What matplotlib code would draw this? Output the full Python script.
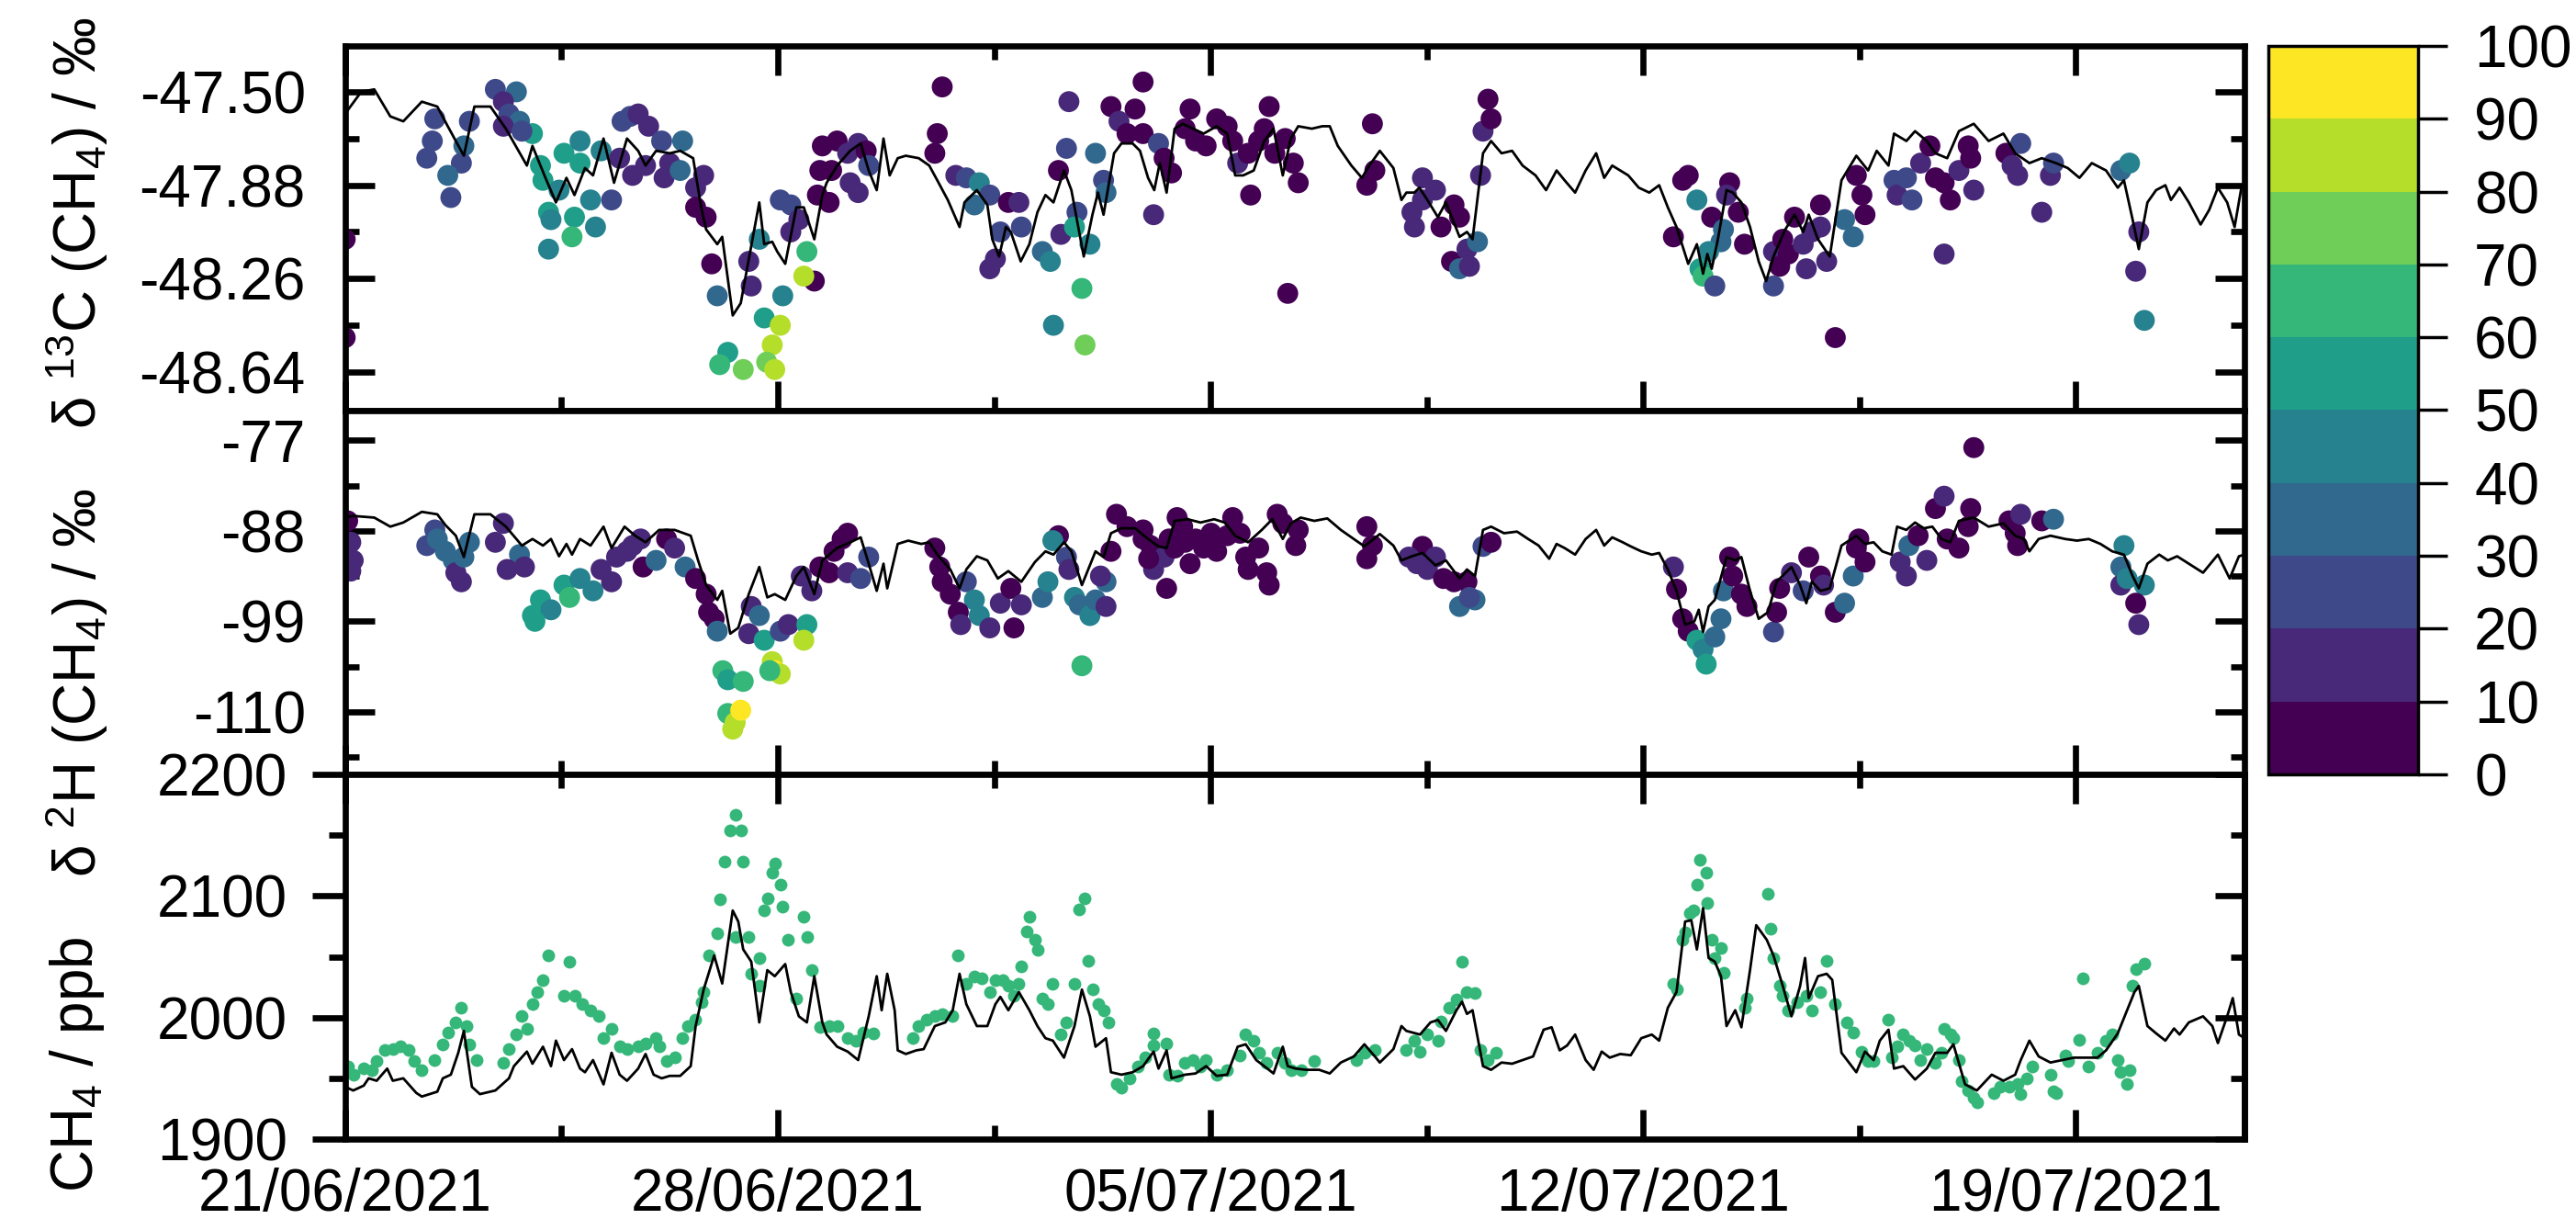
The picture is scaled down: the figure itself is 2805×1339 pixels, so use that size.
import numpy as np
import matplotlib
matplotlib.use("Agg")
import matplotlib.pyplot as plt
import matplotlib.dates as mdates
from matplotlib.colors import BoundaryNorm
from matplotlib.cm import ScalarMappable
from matplotlib.ticker import FixedLocator, FormatStrFormatter

plt.rcParams['font.family'] = 'Liberation Sans'
plt.rcParams['mathtext.fontset'] = 'custom'
plt.rcParams['mathtext.rm'] = 'Liberation Sans'
plt.rcParams['mathtext.it'] = 'Liberation Sans:italic'
plt.rcParams['axes.unicode_minus'] = False

# time is given as days since 21/06/2021 00:00
START = np.datetime64('2021-06-21T00:00')
X_END_DAYS = 30.73

# ---- delta 13C : background line ----
c13_line_day = [
    0.00, 0.04, 0.26, 0.47, 0.73, 0.94, 1.24, 1.49, 1.66, 1.92,
    2.09, 2.35, 2.60, 2.94, 3.03, 3.24, 3.41, 3.58, 3.71, 3.88,
    4.01, 4.18, 4.35, 4.56, 4.74, 4.86, 5.03, 5.25, 5.42, 5.63,
    5.76, 5.84, 6.02, 6.10, 6.27, 6.40, 6.48, 6.70, 6.78, 6.91,
    6.99, 7.12, 7.30, 7.42, 7.59, 7.72, 7.79, 7.96, 8.17, 8.34,
    8.47, 8.60, 8.71, 8.81, 8.94, 9.07, 9.28, 9.45, 9.58, 9.75,
    9.94, 10.02, 10.22, 10.39, 10.47, 10.58, 10.69, 10.77, 10.93, 11.07,
    11.20, 11.33, 11.46, 11.63, 11.75, 11.95, 12.09, 12.18, 12.27, 12.44,
    12.56, 12.74, 12.86, 12.99, 13.09, 13.18, 13.29, 13.42, 13.55, 13.72,
    13.89, 14.10, 14.27, 14.40, 14.53, 14.70, 14.87, 15.02, 15.17, 15.30,
    15.42, 15.64, 15.81, 15.93, 16.06, 16.28, 16.45, 16.57, 16.74, 16.96,
    17.09, 17.17, 17.30, 17.38, 17.51, 17.68, 17.81, 18.03, 18.15, 18.24,
    18.41, 18.54, 18.71, 18.88, 19.05, 19.26, 19.43, 19.60, 19.73, 19.90,
    20.07, 20.24, 20.37, 20.50, 20.63, 20.76, 20.93, 21.10, 21.26, 21.40,
    21.54, 21.73, 21.87, 21.97, 22.04, 22.11, 22.21, 22.35, 22.45, 22.59,
    22.73, 22.87, 22.99, 23.11, 23.30, 23.45, 23.59, 23.68, 23.83, 24.02,
    24.21, 24.45, 24.64, 24.78, 24.97, 25.06, 25.26, 25.40, 25.59, 25.73,
    25.92, 26.11, 26.35, 26.59, 26.83, 27.02, 27.25, 27.45, 27.68, 27.87,
    28.06, 28.26, 28.49, 28.68, 28.78, 28.92, 29.02, 29.16, 29.30, 29.45,
    29.54, 29.68, 29.83, 30.02, 30.16, 30.30, 30.45, 30.57, 30.68, 30.73]
c13_line_val = [
    -47.60, -47.575, -47.50, -47.49, -47.60, -47.62, -47.54, -47.56, -47.64, -47.76,
    -47.56, -47.56, -47.65, -47.80, -47.72, -47.85, -47.95, -47.85, -47.92, -47.81,
    -47.84, -47.69, -47.87, -47.69, -47.74, -47.80, -47.74, -47.75, -47.74, -47.77,
    -47.97, -48.06, -48.12, -48.09, -48.41, -48.36, -48.25, -47.95, -48.12, -48.11,
    -48.15, -48.20, -47.97, -47.97, -48.10, -47.92, -47.87, -47.80, -47.74, -47.71,
    -47.82, -47.90, -47.69, -47.84, -47.77, -47.76, -47.77, -47.80, -47.86, -47.94,
    -48.05, -47.95, -47.90, -47.96, -48.10, -48.17, -48.05, -48.07, -48.19, -48.12,
    -47.99, -47.92, -47.95, -47.82, -47.90, -48.17, -48.00, -47.91, -48.00, -47.75,
    -47.71, -47.71, -47.74, -47.85, -47.90, -47.79, -47.91, -47.65, -47.63, -47.65,
    -47.67, -47.64, -47.67, -47.84, -47.84, -47.82, -47.70, -47.65, -47.84, -47.69,
    -47.64, -47.65, -47.64, -47.64, -47.72, -47.80, -47.85, -47.80, -47.74, -47.81,
    -47.94, -47.91, -47.91, -47.89, -47.94, -48.01, -47.95, -48.09, -48.07, -48.10,
    -47.75, -47.70, -47.75, -47.74, -47.80, -47.84, -47.90, -47.82, -47.86, -47.91,
    -47.82, -47.75, -47.85, -47.80, -47.82, -47.84, -47.89, -47.91, -47.88, -47.97,
    -48.05, -48.20, -48.12, -48.24, -48.16, -48.22, -48.10, -47.90, -47.91, -47.95,
    -48.05, -48.19, -48.27, -48.17, -48.06, -48.00, -48.07, -48.00, -48.10, -48.17,
    -47.86, -47.76, -47.82, -47.74, -47.80, -47.67, -47.70, -47.66, -47.70, -47.75,
    -47.77, -47.66, -47.63, -47.70, -47.67, -47.75, -47.79, -47.77, -47.79, -47.81,
    -47.85, -47.79, -47.82, -47.89, -47.86, -48.02, -48.14, -47.95, -47.90, -47.88,
    -47.94, -47.89, -47.95, -48.04, -47.98, -47.89, -47.95, -48.05, -47.89, -47.89]

# ---- delta 13C : samples, colour = percentage ----
c13_day = [
    0.00, 0.00, 2.43, 2.77, 2.56, 2.65, 2.82, 2.56, 3.03, 2.86,
    1.45, 2.01, 1.41, 1.92, 1.32, 1.88, 1.66, 1.71, 3.54, 3.80,
    3.16, 3.20, 3.46, 3.80, 3.29, 3.33, 3.71, 3.67, 3.29, 3.97,
    4.05, 4.31, 4.14, 4.48, 4.61, 4.74, 4.91, 4.44, 4.65, 4.86,
    5.12, 5.25, 5.16, 5.46, 5.42, 5.67, 5.80, 5.67, 5.84, 5.93,
    6.02, 6.53, 6.57, 6.70, 6.78, 7.04, 7.21, 7.34, 7.47, 7.59,
    7.42, 7.08, 6.19, 6.06, 6.44, 7.04, 6.91, 6.82, 6.95, 6.36,
    7.68, 7.72, 7.64, 7.21, 7.96, 7.87, 7.83, 8.13, 8.30, 8.43,
    8.17, 8.30, 8.47, 9.66, 9.58, 9.54, 9.88, 10.05, 10.26, 10.43,
    10.18, 10.73, 10.90, 10.60, 10.94, 10.52, 10.43, 11.28, 11.41, 11.54,
    11.58, 11.71, 11.67, 12.14, 11.84, 11.80, 12.05, 11.92, 11.46, 11.97,
    12.27, 12.31, 12.39, 12.78, 12.91, 12.52, 12.65, 12.91, 13.16, 13.25,
    13.37, 13.08, 13.67, 13.59, 13.76, 13.93, 14.10, 14.27, 14.36, 14.44,
    14.61, 14.95, 14.87, 14.78, 15.04, 15.21, 15.34, 15.42, 14.65, 15.25,
    16.62, 16.66, 16.53, 17.43, 17.64, 17.26, 17.30, 17.43, 17.73, 17.94,
    18.03, 17.90, 18.03, 18.19, 18.15, 18.32, 18.37, 18.41, 18.49, 18.54,
    21.73, 21.64, 21.87, 21.49, 22.11, 22.40, 22.35, 22.54, 22.30, 22.26,
    22.06, 21.92, 21.97, 22.16, 22.64, 23.11, 23.45, 23.26, 23.35, 23.21,
    23.59, 23.64, 23.73, 23.87, 23.87, 23.97, 23.11, 24.11, 24.26, 24.40,
    24.45, 24.54, 24.59, 25.06, 25.11, 25.26, 25.35, 25.49, 25.64, 25.73,
    25.87, 25.97, 26.11, 26.26, 26.30, 26.35, 25.87, 26.87, 26.97, 27.11,
    27.06, 27.59, 27.64, 27.45, 28.73, 28.87, 29.02, 28.97, 29.11]
c13_val = [
    -48.10, -48.50, -47.49, -47.50, -47.54, -47.59, -47.62, -47.64, -47.67, -47.66,
    -47.61, -47.62, -47.70, -47.72, -47.77, -47.79, -47.84, -47.93, -47.75, -47.70,
    -47.80, -47.86, -47.90, -47.79, -47.99, -48.02, -48.01, -48.09, -48.14, -47.94,
    -48.05, -47.94, -47.74, -47.62, -47.60, -47.59, -47.64, -47.77, -47.84, -47.80,
    -47.70, -47.79, -47.85, -47.70, -47.82, -47.89, -47.84, -47.97, -48.01, -48.20,
    -48.33, -48.19, -48.29, -48.10, -48.42, -47.94, -47.96, -48.02, -48.15, -48.27,
    -48.25, -48.33, -48.56, -48.61, -48.63, -48.45, -48.53, -48.60, -48.63, -48.84,
    -47.82, -47.72, -47.92, -48.07, -47.70, -47.82, -47.95, -47.75, -47.71, -47.74,
    -47.87, -47.91, -47.80, -47.48, -47.67, -47.75, -47.84, -47.85, -47.87, -47.92,
    -47.96, -47.95, -47.95, -48.07, -48.05, -48.18, -48.22, -48.15, -48.19, -47.82,
    -48.08, -47.54, -47.73, -47.75, -47.99, -48.05, -48.12, -48.30, -48.45, -48.53,
    -47.86, -47.91, -47.56, -47.57, -47.46, -47.62, -47.67, -47.67, -47.71, -47.77,
    -47.83, -48.00, -47.57, -47.65, -47.70, -47.72, -47.61, -47.64, -47.70, -47.79,
    -47.75, -47.56, -47.65, -47.70, -47.75, -47.69, -47.79, -47.87, -47.92, -48.32,
    -47.63, -47.82, -47.88, -47.85, -47.90, -47.99, -48.05, -47.94, -48.05, -47.96,
    -48.01, -48.19, -48.22, -48.21, -48.14, -48.11, -47.84, -47.66, -47.53, -47.61,
    -47.84, -47.86, -47.94, -48.09, -48.01, -47.87, -47.92, -47.99, -48.06, -48.11,
    -48.15, -48.22, -48.25, -48.29, -48.12, -48.15, -48.01, -48.10, -48.16, -48.21,
    -48.12, -48.22, -48.07, -47.96, -48.05, -48.19, -48.29, -48.50, -48.02, -48.09,
    -47.84, -47.92, -48.00, -47.86, -47.92, -47.85, -47.94, -47.79, -47.72, -47.85,
    -47.87, -47.94, -47.82, -47.72, -47.77, -47.90, -48.16, -47.75, -47.80, -47.71,
    -47.84, -47.84, -47.79, -47.99, -47.82, -47.79, -48.07, -48.23, -48.43]
c13_pct = [
    5, 5, 25, 35, 15, 25, 35, 15, 55, 25,
    25, 25, 25, 35, 25, 25, 35, 25, 55, 45,
    55, 55, 45, 55, 55, 45, 55, 65, 45, 45,
    45, 25, 45, 25, 25, 15, 15, 15, 15, 15,
    25, 15, 15, 35, 35, 15, 15, 5, 5, 5,
    35, 15, 15, 45, 55, 25, 25, 15, 65, 5,
    85, 45, 55, 65, 75, 85, 85, 75, 85, 85,
    5, 5, 5, 15, 5, 5, 5, 15, 15, 5,
    15, 15, 25, 5, 5, 5, 15, 25, 45, 25,
    35, 5, 15, 25, 25, 15, 15, 35, 45, 5,
    15, 15, 25, 35, 25, 55, 45, 65, 45, 75,
    25, 35, 5, 5, 5, 15, 5, 5, 25, 5,
    5, 15, 5, 5, 5, 5, 5, 5, 5, 15,
    5, 5, 5, 5, 5, 5, 5, 5, 5, 5,
    5, 5, 5, 15, 15, 15, 15, 15, 5, 5,
    5, 5, 35, 15, 15, 35, 15, 15, 5, 5,
    5, 5, 45, 5, 5, 5, 15, 5, 35, 35,
    45, 55, 65, 25, 5, 15, 5, 5, 5, 5,
    15, 15, 15, 5, 15, 15, 25, 5, 35, 35,
    5, 5, 5, 25, 15, 25, 25, 15, 5, 5,
    5, 5, 15, 5, 5, 15, 15, 5, 15, 25,
    15, 15, 25, 15, 35, 45, 15, 15, 45]

# ---- delta 2H : background line ----
d2h_line_day = [
    0.00, 0.13, 0.47, 0.73, 0.94, 1.24, 1.49, 1.62, 1.79, 1.92,
    2.09, 2.35, 2.60, 2.86, 3.03, 3.20, 3.33, 3.46, 3.58, 3.67,
    3.80, 3.97, 4.18, 4.31, 4.52, 4.69, 4.86, 5.08, 5.33, 5.59,
    5.71, 5.84, 6.02, 6.10, 6.23, 6.36, 6.53, 6.70, 6.83, 6.95,
    7.12, 7.30, 7.42, 7.59, 7.72, 7.96, 8.17, 8.34, 8.47, 8.60,
    8.71, 8.77, 8.94, 9.11, 9.32, 9.45, 9.58, 9.79, 9.94, 10.05,
    10.22, 10.39, 10.56, 10.73, 10.94, 11.16, 11.33, 11.46, 11.63, 11.75,
    11.92, 12.14, 12.27, 12.39, 12.56, 12.78, 12.99, 13.16, 13.29, 13.42,
    13.63, 13.84, 14.06, 14.23, 14.40, 14.61, 14.83, 15.00, 15.17, 15.30,
    15.46, 15.68, 15.89, 16.11, 16.28, 16.49, 16.74, 16.96, 17.09, 17.26,
    17.43, 17.64, 17.81, 18.03, 18.15, 18.28, 18.41, 18.54, 18.75, 18.96,
    19.14, 19.31, 19.48, 19.60, 19.73, 19.90, 20.07, 20.24, 20.37, 20.50,
    20.67, 20.80, 20.97, 21.14, 21.26, 21.40, 21.54, 21.68, 21.83, 21.90,
    21.97, 22.06, 22.16, 22.35, 22.49, 22.59, 22.73, 22.87, 23.02, 23.16,
    23.40, 23.54, 23.64, 23.73, 23.87, 24.02, 24.21, 24.45, 24.59, 24.73,
    24.87, 25.02, 25.11, 25.26, 25.40, 25.54, 25.68, 25.83, 25.97, 26.11,
    26.35, 26.59, 26.83, 27.02, 27.16, 27.25, 27.40, 27.59, 27.83, 28.02,
    28.21, 28.40, 28.59, 28.78, 28.92, 29.02, 29.16, 29.35, 29.49, 29.64,
    29.83, 30.06, 30.30, 30.49, 30.64, 30.73]
d2h_line_val = [
    -86.4, -86.2, -86.4, -87.5, -87.0, -85.7, -86.0, -87.3, -88.6, -91.2,
    -86.0, -86.0, -87.5, -89.8, -89.0, -89.8, -89.0, -91.1, -89.6, -90.9,
    -89.0, -89.8, -87.5, -90.1, -87.5, -88.6, -89.4, -87.9, -87.9, -88.6,
    -91.6, -94.6, -96.4, -95.3, -100.5, -99.8, -95.7, -92.4, -96.1, -95.7,
    -96.4, -93.5, -92.4, -95.7, -91.6, -90.1, -89.4, -88.8, -92.0, -95.3,
    -92.0, -95.0, -89.6, -89.2, -89.6, -89.4, -90.9, -92.7, -95.0, -92.7,
    -91.1, -91.6, -93.8, -92.9, -94.2, -91.8, -90.5, -90.9, -89.4, -90.5,
    -94.6, -90.5, -91.2, -88.3, -87.7, -87.7, -89.0, -89.9, -90.1, -86.8,
    -86.6, -87.0, -86.6, -87.0, -88.6, -89.4, -87.9, -86.6, -89.0, -87.1,
    -86.4, -86.8, -86.5, -87.9, -88.8, -89.9, -88.4, -89.8, -91.6, -91.1,
    -90.7, -92.2, -91.6, -93.8, -92.7, -93.5, -87.9, -87.5, -88.3, -88.1,
    -89.0, -89.8, -91.4, -89.6, -90.1, -90.9, -89.0, -87.9, -89.8, -88.8,
    -89.4, -89.9, -90.5, -90.9, -90.7, -92.7, -95.3, -99.4, -99.0, -97.6,
    -100.3, -97.2, -96.4, -91.2, -91.6, -91.2, -95.3, -98.7, -97.9, -94.2,
    -92.4, -94.6, -96.8, -94.2, -95.3, -95.0, -89.8, -88.6, -89.6, -89.4,
    -90.5, -90.9, -87.5, -87.9, -87.0, -87.7, -87.5, -89.0, -89.4, -86.8,
    -86.4, -87.5, -87.1, -88.6, -89.0, -90.5, -89.0, -88.6, -89.0, -89.2,
    -89.0, -89.6, -90.5, -90.9, -93.5, -95.0, -92.0, -90.9, -91.6, -91.1,
    -92.0, -93.1, -90.9, -93.8, -91.1, -90.9]

# ---- delta 2H : samples, colour = percentage ----
d2h_day = [
    0.04, 0.09, 0.13, 0.09, 1.45, 1.32, 1.49, 1.62, 1.75, 1.79,
    1.88, 2.01, 1.92, 2.43, 2.56, 2.82, 2.62, 2.90, 3.54, 3.16,
    3.03, 3.33, 3.07, 3.63, 3.80, 4.01, 4.14, 4.31, 4.39, 4.56,
    4.78, 4.65, 4.82, 5.03, 5.20, 5.33, 5.50, 5.67, 5.84, 5.88,
    5.97, 6.02, 6.53, 6.57, 6.70, 6.78, 7.04, 7.17, 7.47, 7.42,
    6.11, 6.19, 6.44, 6.91, 6.95, 7.04, 6.87, 6.19, 6.31, 6.27,
    7.38, 7.55, 7.68, 6.40,
    8.13, 8.04, 7.91, 7.83, 8.13, 8.34, 8.47, 9.54, 9.62, 9.66,
    9.79, 10.05, 10.18, 10.26, 9.92, 9.96, 10.43, 10.60, 10.82, 10.77,
    10.94, 11.28, 11.37, 11.54, 11.45, 11.67, 11.71, 11.80, 11.88, 12.05,
    12.14, 12.31, 12.31, 12.22, 12.39, 11.92, 12.48, 12.65, 12.91, 12.91,
    13.03, 13.08, 13.25, 13.00, 13.29, 13.46, 13.55, 13.33, 13.42, 13.59,
    13.67, 13.76, 13.89, 14.01, 14.10, 14.36, 14.27, 14.48, 14.57, 14.61,
    14.78, 14.91, 14.95, 15.08, 15.17, 15.42, 15.38, 16.53, 16.62, 16.53,
    17.43, 17.21, 17.34, 17.64, 17.51, 17.77, 17.94, 18.15, 18.03, 18.28,
    18.19, 18.41, 18.54,
    21.49, 21.54, 21.64, 21.73, 21.87, 21.97, 22.02, 22.16, 22.26, 22.30,
    22.40, 22.45, 22.59, 22.68, 23.11, 23.16, 23.21, 23.40, 23.59, 23.68,
    23.87, 23.92, 24.11, 24.26, 24.40, 24.45, 24.59, 24.49, 25.16, 25.26,
    25.30, 25.45, 25.59, 25.73, 25.87, 25.92, 26.11, 26.26, 26.30, 26.35,
    26.92, 27.02, 27.06, 27.11, 27.45, 27.64, 28.78, 28.73, 28.73, 28.83,
    29.11, 28.97, 29.02]
d2h_val = [
    -86.8, -89.4, -91.6, -92.9, -87.9, -89.8, -89.0, -90.5, -91.6, -93.1,
    -94.2, -89.4, -91.2, -89.4, -87.1, -90.9, -92.7, -92.4, -94.6, -96.4,
    -98.3, -97.6, -99.0, -96.1, -93.8, -95.3, -92.7, -94.2, -91.2, -90.5,
    -89.0, -89.8, -92.4, -91.6, -89.0, -90.1, -92.4, -93.8, -95.7, -97.9,
    -98.7, -100.2, -100.5, -97.2, -98.3, -101.3, -100.2, -99.4, -99.4, -101.3,
    -105.0, -106.1, -106.3, -103.9, -105.0, -105.4, -105.0, -110.2, -111.3, -112.1,
    -93.5, -95.3, -92.4, -109.8,
    -88.3, -89.0, -90.5, -93.1, -93.1, -93.8, -91.2, -90.1, -92.4, -94.2,
    -95.7, -94.2, -96.4, -98.3, -97.9, -99.4, -99.8, -96.8, -99.8, -95.0,
    -97.0, -96.1, -94.2, -88.6, -89.2, -91.2, -92.7, -96.1, -97.0, -98.3,
    -96.4, -94.2, -97.2, -93.5, -90.5, -104.4, -86.0, -87.5, -87.9, -89.0,
    -89.8, -92.7, -91.2, -91.4, -95.0, -86.4, -87.5, -89.0, -90.1, -89.4,
    -92.0, -89.0, -90.1, -88.3, -90.5, -86.4, -88.6, -88.3, -91.2, -92.7,
    -90.1, -93.1, -94.6, -86.0, -87.1, -87.9, -89.8, -87.5, -89.8, -91.4,
    -89.9, -91.2, -92.0, -91.2, -92.7, -93.8, -94.2, -94.2, -97.2, -96.4,
    -96.1, -89.9, -89.4,
    -92.4, -95.1, -98.7, -100.2, -101.3, -102.4, -104.2, -100.9, -98.7, -95.3,
    -91.2, -93.5, -95.7, -97.2, -100.3, -97.9, -95.0, -93.1, -95.3, -91.2,
    -93.5, -94.6, -97.9, -96.8, -93.5, -90.1, -91.8, -89.0, -91.8, -93.5,
    -89.8, -88.6, -91.6, -85.3, -83.8, -89.0, -90.1, -87.5, -85.3, -77.9,
    -86.8, -88.3, -89.8, -86.0, -86.8, -86.6, -89.8, -92.4, -94.6, -93.8,
    -94.6, -96.8, -99.4]
d2h_pct = [
    5, 15, 15, 15, 25, 25, 35, 35, 35, 15,
    15, 35, 35, 15, 15, 35, 15, 15, 55, 55,
    55, 45, 55, 65, 45, 45, 15, 15, 15, 15,
    15, 15, 5, 35, 5, 15, 35, 5, 5, 5,
    5, 35, 15, 15, 35, 55, 25, 15, 55, 85,
    65, 55, 65, 85, 95, 85, 65, 65, 85, 85,
    15, 15, 5, 95,
    5, 5, 5, 5, 15, 25, 25, 5, 5, 5,
    5, 25, 45, 45, 5, 15, 15, 15, 5, 5,
    15, 35, 45, 5, 45, 25, 15, 45, 35, 45,
    35, 35, 15, 15, 5, 65, 5, 5, 5, 5,
    5, 15, 15, 5, 5, 5, 5, 5, 5, 5,
    5, 5, 5, 5, 5, 5, 5, 5, 5, 5,
    5, 5, 5, 5, 5, 5, 5, 5, 5, 5,
    5, 15, 15, 15, 15, 5, 5, 5, 35, 35,
    25, 25, 5,
    15, 5, 5, 5, 55, 45, 55, 35, 35, 35,
    5, 5, 5, 5, 25, 5, 5, 15, 25, 5,
    5, 15, 5, 35, 35, 5, 5, 5, 15, 15,
    35, 5, 15, 5, 15, 5, 5, 5, 5, 5,
    5, 5, 5, 15, 5, 35, 45, 35, 15, 45,
    45, 5, 15]

# ---- CH4 : background line ----
ch4_line_day = [
    0.00, 0.13, 0.30, 0.38, 0.51, 0.68, 0.77, 0.94, 1.15, 1.24,
    1.49, 1.58, 1.71, 1.83, 1.92, 2.05, 2.18, 2.43, 2.65, 2.73,
    2.94, 3.03, 3.20, 3.33, 3.41, 3.54, 3.67, 3.80, 3.88, 4.01,
    4.18, 4.31, 4.44, 4.56, 4.74, 4.86, 4.99, 5.12, 5.25, 5.42,
    5.59, 5.67, 5.80, 5.97, 6.10, 6.27, 6.36, 6.44, 6.57, 6.70,
    6.83, 6.95, 7.12, 7.21, 7.34, 7.47, 7.59, 7.72, 7.79, 7.96,
    8.13, 8.30, 8.47, 8.60, 8.68, 8.77, 8.89, 8.94, 9.07, 9.24,
    9.36, 9.54, 9.71, 9.83, 9.94, 10.05, 10.22, 10.39, 10.52, 10.60,
    10.73, 10.90, 11.07, 11.20, 11.33, 11.45, 11.63, 11.80, 11.92, 12.05,
    12.14, 12.31, 12.39, 12.56, 12.74, 12.91, 13.08, 13.16, 13.29, 13.37,
    13.59, 13.76, 13.93, 14.10, 14.27, 14.44, 14.57, 14.74, 14.87, 15.02,
    15.17, 15.25, 15.38, 15.55, 15.76, 15.93, 16.11, 16.32, 16.49, 16.66,
    16.74, 16.96, 17.09, 17.17, 17.39, 17.56, 17.68, 17.81, 17.98, 18.07,
    18.15, 18.24, 18.41, 18.54, 18.71, 18.88, 19.05, 19.22, 19.39, 19.52,
    19.65, 19.77, 19.90, 20.07, 20.20, 20.33, 20.46, 20.63, 20.80, 20.97,
    21.14, 21.26, 21.40, 21.54, 21.68, 21.78, 21.87, 21.97, 22.06, 22.16,
    22.26, 22.35, 22.49, 22.59, 22.73, 22.83, 23.00, 23.11, 23.26, 23.40,
    23.54, 23.62, 23.68, 23.83, 23.97, 24.06, 24.21, 24.45, 24.59, 24.73,
    24.83, 24.97, 25.06, 25.21, 25.40, 25.59, 25.73, 25.92, 26.02, 26.21,
    26.40, 26.64, 26.83, 27.02, 27.11, 27.25, 27.40, 27.59, 27.78, 27.97,
    28.16, 28.35, 28.49, 28.68, 28.83, 28.95, 29.02, 29.16, 29.30, 29.45,
    29.59, 29.68, 29.83, 30.06, 30.21, 30.30, 30.45, 30.54, 30.64, 30.73]
ch4_line_val = [
    1943, 1940, 1944, 1950, 1948, 1958, 1948, 1950, 1938, 1935,
    1939, 1950, 1953, 1971, 1989, 1943, 1937, 1940, 1950, 1960,
    1972, 1962, 1976, 1960, 1981, 1965, 1974, 1958, 1955, 1965,
    1945, 1971, 1953, 1948, 1958, 1970, 1953, 1950, 1952, 1952,
    1960, 1993, 2023, 2051, 2028, 2088, 2079, 2056, 2046, 1996,
    2039, 2034, 2044, 2021, 2001, 1996, 2034, 1996, 1986, 1976,
    1972, 1965, 2001, 2034, 2006, 2036, 2006, 1973, 1970, 1973,
    1974, 1993, 1996, 2006, 2036, 2011, 1993, 1993, 2011, 2017,
    2006, 2021, 2006, 1993, 1983, 1981, 1967, 1993, 2023, 2001,
    1976, 1983, 1955, 1953, 1955, 1960, 1972, 1958, 1973, 1950,
    1953, 1954, 1960, 1952, 1953, 1976, 1978, 1965, 1960, 1954,
    1976, 1960, 1958, 1957, 1957, 1954, 1963, 1968, 1978, 1968,
    1963, 1974, 1993, 1989, 1986, 1996, 1998, 1989, 2006, 2013,
    2003, 2006, 1960, 1957, 1963, 1962, 1965, 1968, 1990, 1992,
    1973, 1977, 1986, 1965, 1957, 1972, 1967, 1970, 1969, 1983,
    1986, 1981, 2008, 2021, 2079, 2080, 2056, 2090, 2049, 2046,
    2034, 1993, 2006, 1992, 2039, 2076, 2064, 2051, 2026, 2001,
    2026, 2049, 2016, 2034, 2036, 2031, 1971, 1955, 1972, 1965,
    1981, 1990, 1958, 1960, 1949, 1958, 1971, 1971, 1978, 1945,
    1940, 1953, 1948, 1953, 1965, 1981, 1968, 1963, 1965, 1967,
    1967, 1967, 1973, 1987, 2006, 2021, 2026, 1993, 1987, 1981,
    1991, 1986, 1996, 2001, 1993, 1979, 2001, 2016, 1986, 1983]

# ---- CH4 : samples ----
ch4_day = [
    0.04, 0.13, 0.30, 0.43, 0.51, 0.64, 0.77, 0.90, 1.02, 1.11,
    1.24, 1.45, 1.58, 1.66, 1.79, 1.88, 1.96, 2.01, 2.13, 2.56,
    2.65, 2.77, 2.86, 2.94, 3.03, 3.11, 3.20, 3.29, 3.54, 3.63,
    3.71, 3.84, 3.97, 4.10, 4.18, 4.31, 4.44, 4.56, 4.74, 4.86,
    5.03, 5.08, 5.20, 5.33, 5.46, 5.55, 5.67, 5.76, 5.80, 5.88,
    6.02, 6.06, 6.14, 6.23, 6.31, 6.40, 6.44, 6.31, 6.53, 6.57,
    6.70, 6.70, 6.78, 6.83, 6.91, 6.95, 7.04, 7.08, 7.17, 7.30,
    7.42, 7.47, 7.55, 7.68,
    7.83, 7.96, 8.13, 8.26, 8.38, 8.55, 9.19, 9.28, 9.41, 9.54,
    9.66, 9.83, 9.92, 10.05, 10.18, 10.30, 10.43, 10.52, 10.64, 10.73,
    10.82, 10.90, 10.94, 11.03, 11.07, 11.16, 11.20, 11.28, 11.37, 11.45,
    11.58, 11.67, 11.80, 11.88, 11.97, 12.03, 12.09, 12.18, 12.27, 12.35,
    12.48, 12.56, 12.69, 12.82, 12.95, 13.08, 13.08, 13.29, 13.33, 13.46,
    13.59, 13.72, 13.84, 13.93, 14.10, 14.27, 14.48, 14.57, 14.70, 14.78,
    14.91, 15.08, 15.21, 15.30, 15.47, 15.68, 16.36, 16.49, 16.66, 17.17,
    17.30, 17.38, 17.51, 17.68, 17.73, 17.86, 17.98, 18.07, 18.15, 18.28,
    18.37, 18.49, 18.62,
    21.49, 21.54, 21.64, 21.68, 21.75, 21.81, 21.87, 21.92, 22.02, 22.04,
    22.11, 22.16, 22.26, 22.30, 22.68, 22.64, 23.02, 23.06, 23.11, 23.21,
    23.26, 23.35, 23.49, 23.64, 23.73, 23.87, 23.97, 24.11, 24.30, 24.40,
    24.54, 24.64, 24.73, 24.97, 25.02, 25.11, 25.21, 25.30, 25.40, 25.49,
    25.59, 25.73, 25.83, 25.87, 25.97, 26.02, 26.11, 26.16, 26.26, 26.35,
    26.40, 26.68, 26.78, 26.92, 27.06, 27.11, 27.21, 27.30, 27.59, 27.64,
    27.68, 27.83, 27.87, 28.11, 28.06, 28.21, 28.35, 28.49, 28.59, 28.68,
    28.73, 28.83, 28.87, 28.92, 28.97, 29.11]
ch4_val = [
    1960, 1953, 1958, 1957, 1964, 1973, 1974, 1976, 1973, 1964,
    1957, 1965, 1978, 1988, 1996, 2008, 1993, 1978, 1965, 1963,
    1974, 1986, 2001, 1991, 2011, 2021, 2031, 2051, 2018, 2046,
    2018, 2011, 2006, 2001, 1983, 1991, 1976, 1974, 1976, 1979,
    1983, 1976, 1964, 1967, 1983, 1993, 1998, 2013, 2021, 2051,
    2069, 2097, 2128, 2154, 2167, 2154, 2128, 2066, 2066, 2036,
    2049, 2026, 2088, 2098, 2119, 2127, 2109, 2091, 2064, 2016,
    2083, 2066, 2039, 1992,
    1993, 1993, 1983, 1981, 1988, 1987, 1983, 1993, 1998, 2001,
    2003, 2001, 2051, 2028, 2034, 2032, 2021, 2031, 2031, 2026,
    2018, 2028, 2042, 2071, 2083, 2064, 2056, 2016, 2011, 2028,
    1986, 1996, 2028, 2089, 2098, 2047, 2023, 2011, 2006, 1996,
    1945, 1942, 1950, 1960, 1967, 1987, 1977, 1979, 1953, 1952,
    1963, 1965, 1960, 1965, 1953, 1957, 1969, 1986, 1981, 1971,
    1963, 1971, 1963, 1957, 1957, 1964, 1965, 1971, 1973, 1973,
    1981, 1972, 1986, 1981, 1997, 2008, 2015, 2046, 2021, 2020,
    1973, 1965, 1971,
    2028, 2023, 2064, 2070, 2086, 2088, 2109, 2130, 2119, 2094,
    2064, 2049, 2057, 2037, 2016, 2008, 2102, 2073, 2049, 2026,
    2018, 2006, 2013, 2018, 2006, 2021, 2047, 2011, 1996, 1988,
    1972, 1964, 1964, 1998, 1967, 1976, 1986, 1981, 1977, 1965,
    1974, 1963, 1971, 1991, 1986, 1983, 1965, 1948, 1940, 1934,
    1930, 1938, 1943, 1943, 1945, 1937, 1950, 1960, 1953, 1939,
    1938, 1969, 1964, 2032, 1982, 1960, 1971, 1981, 1986, 1965,
    1955, 1945, 1957, 2026, 2040, 2044]

# axis ticks
week_days = [0, 7, 14, 21, 28]
half_week_days = [3.5, 10.5, 17.5, 24.5]
c13_major = [-47.50, -47.88, -48.26, -48.64]
c13_minor = [-47.69, -48.07, -48.45]
d2h_major = [-77, -88, -99, -110]
d2h_minor = [-82.5, -93.5, -104.5, -115.5]
ch4_major = [1900, 2000, 2100, 2200]
ch4_minor = [1950, 2050, 2150]
pct_ticks = list(range(0, 101, 10))

label_c13 = 'δ $^{13}$C (CH$_4$) / ‰'
label_d2h = 'δ $^{2}$H (CH$_4$) / ‰'
label_ch4 = 'CH$_4$ / ppb'


def to_dates(days):
    minutes = np.round(np.asarray(days, dtype=float) * 1440).astype(int)
    return START + minutes.astype('timedelta64[m]')


FS = 46
LW = 4.8

cmap = plt.get_cmap('viridis').resampled(10)
norm = BoundaryNorm(np.arange(0, 101, 10), cmap.N)

fig = plt.figure(figsize=(28.05, 13.39), dpi=100)
ax1 = fig.add_axes([0.1340, 0.6662, 0.7373, 0.2965])
ax2 = fig.add_axes([0.1340, 0.3704, 0.7373, 0.2958], sharex=ax1)
ax3 = fig.add_axes([0.1340, 0.0739, 0.7373, 0.2965], sharex=ax1)
cax = fig.add_axes([0.8806, 0.3704, 0.0581, 0.5923])

# panels with samples coloured by percentage
ax1.scatter(to_dates(c13_day), c13_val, c=c13_pct, cmap=cmap, norm=norm,
            s=270, linewidths=0, zorder=2)
ax1.plot(to_dates(c13_line_day), c13_line_val, color='black', lw=2.0, zorder=3)

ax2.scatter(to_dates(d2h_day), d2h_val, c=d2h_pct, cmap=cmap, norm=norm,
            s=270, linewidths=0, zorder=2)
ax2.plot(to_dates(d2h_line_day), d2h_line_val, color='black', lw=2.0, zorder=3)

ax3.scatter(to_dates(ch4_day), ch4_val, color=cmap(6), s=100,
            linewidths=0, zorder=2)
ax3.plot(to_dates(ch4_line_day), ch4_line_val, color='black', lw=2.0, zorder=3)

# limits
ax1.set_xlim(START, to_dates([X_END_DAYS])[0])
ax1.set_ylim(-48.797, -47.313)
ax2.set_ylim(-117.6, -73.4)
ax3.set_ylim(1900, 2200)

# shared x ticks
ax1.xaxis.set_major_locator(FixedLocator(mdates.date2num(to_dates(week_days))))
ax1.xaxis.set_minor_locator(FixedLocator(mdates.date2num(to_dates(half_week_days))))
ax1.xaxis.set_major_formatter(mdates.DateFormatter('%d/%m/%Y'))

ax1.yaxis.set_major_locator(FixedLocator(c13_major))
ax1.yaxis.set_minor_locator(FixedLocator(c13_minor))
ax1.yaxis.set_major_formatter(FormatStrFormatter('%.2f'))
ax2.yaxis.set_major_locator(FixedLocator(d2h_major))
ax2.yaxis.set_minor_locator(FixedLocator(d2h_minor))
ax2.yaxis.set_major_formatter(FormatStrFormatter('%d'))
ax3.yaxis.set_major_locator(FixedLocator(ch4_major))
ax3.yaxis.set_minor_locator(FixedLocator(ch4_minor))
ax3.yaxis.set_major_formatter(FormatStrFormatter('%d'))

for ax in (ax1, ax2, ax3):
    for sp in ax.spines.values():
        sp.set_linewidth(LW)
    ax.tick_params(which='major', length=23, width=LW, labelsize=FS)
    ax.tick_params(which='minor', length=11, width=LW)

ax1.tick_params(axis='x', which='both', direction='in', top=True, bottom=True,
                labelbottom=False)
ax2.tick_params(axis='x', which='both', direction='in', top=False, bottom=True,
                labelbottom=False)
ax3.tick_params(axis='x', which='both', direction='in', top=True, bottom=True,
                labelbottom=True, pad=22)
ax1.tick_params(axis='y', which='both', direction='in', left=True, right=True, pad=31)
ax2.tick_params(axis='y', which='both', direction='in', left=True, right=True, pad=31)
ax3.tick_params(axis='y', which='both', direction='out', left=True, right=False, pad=19)
ax3.tick_params(axis='y', which='major', length=26)
ax3.tick_params(axis='y', which='minor', length=13)

# inward ticks on the right side of the CH4 panel
sec = ax3.secondary_yaxis('right')
sec.yaxis.set_major_locator(FixedLocator(ch4_major))
sec.yaxis.set_minor_locator(FixedLocator(ch4_minor))
sec.tick_params(which='both', direction='in', labelright=False, width=LW)
sec.tick_params(which='major', length=23)
sec.tick_params(which='minor', length=11)
sec.spines['right'].set_linewidth(LW)

# y labels
fig.text(84 / 2805, 1 - 243 / 1339, label_c13, rotation=90, ha='center',
         va='center', fontsize=FS)
fig.text(84 / 2805, 1 - 743 / 1339, label_d2h, rotation=90, ha='center',
         va='center', fontsize=FS)
fig.text(84 / 2805, 1 - 1159 / 1339, label_ch4, rotation=90, ha='center',
         va='center', fontsize=FS)

# colour bar
cb = fig.colorbar(ScalarMappable(norm=norm, cmap=cmap), cax=cax, ticks=pct_ticks)
cb.outline.set_linewidth(2.5)
cax.tick_params(direction='out', length=23, width=2.5, labelsize=FS, pad=21)
cax.minorticks_off()

fig.savefig('out.png', dpi=100)
